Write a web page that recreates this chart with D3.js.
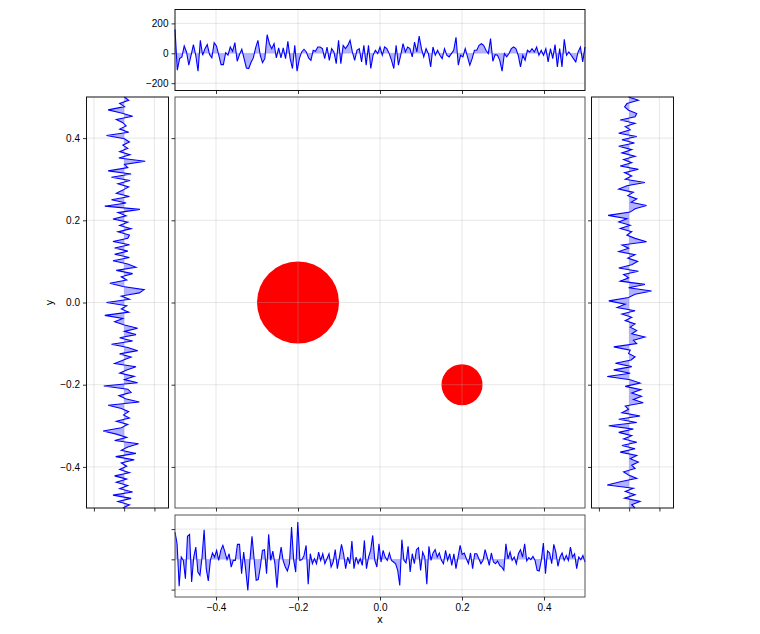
<!DOCTYPE html>
<html lang="en">
<head>
    <meta charset="UTF-8">
    <title>Marginal signals</title>
    <script src="https://cdn.jsdelivr.net/npm/d3@7"></script>
    <style>
        body { margin: 0; background: #fff; }
        svg { display: block; font-family: "DejaVu Sans", sans-serif; }
    </style>
</head>
<body>
<svg width="760" height="634"></svg>
<script>
    // circles in main panel (center x, center y, radius in data units)
    var circleX = [-0.2, 0.2];
    var circleY = [0, -0.2];
    var circleR = [0.1, 0.05];

    var mainTicks = [-0.4, -0.2, 0.0, 0.2, 0.4];
    var sideTicks = [-200, 0, 200];

    // signal along top edge (left -> right)
    var topValues = [160, -113, -36, -24, 49, 9, -80, -13, 58, -13, -120, 87, -13, 31, 58, -9, -31, 71, 49, -13,
        -76, -76, 4, -13, 42, 13, 71, -53, -9, 27, -36, -98, -102, -62, -31, 36, 87, -13, -62, -36,
        124, 64, 31, 64, -31, 36, -31, 36, -36, 80, -36, -102, 53, -120, -36, 9, 27, 9, -31, -47,
        20, 13, 42, 42, 31, -36, 42, -47, 31, 9, -69, 87, -69, 53, 31, 53, 87, 9, -47, 20,
        31, -58, 53, -80, 53, -102, -13, 20, -2, 42, -13, 42, 31, -2, -47, -102, 53, -80, -13, 64,
        9, 42, 31, -24, 75, 9, 115, 31, -24, 31, -2, -91, 42, -13, 20, -13, -36, 31, -13, -24,
        -2, 20, 107, -80, -13, -24, 31, -24, -80, -36, 20, 20, 53, 64, 53, 20, -2, 98, -53, -9,
        -13, -47, -120, -2, -24, -2, 31, 42, 31, -13, -91, -13, -47, 20, 9, 31, 9, 42, -13, 20,
        -13, 31, -58, 31, -36, 58, -91, 31, -91, 93, -13, 9, -13, -36, -58, 9, 42, -58, 42];

    // signal along bottom edge (left -> right)
    var bottomValues = [180, 103, -178, 15, -7, -128, 152, 165, -150, 15, 81, -84, -106, 15, 196, -62, -143, -7, 42, 15,
        59, -7, 59, 92, 48, -2, 37, -51, -7, -7, 99, 99, -95, 48, -73, -205, -7, 152, 4, -139,
        -134, -51, 59, 64, -95, 165, -7, 55, -29, -187, -7, 81, -11, -51, -77, -29, 213, -2, -84, 246,
        -7, -2, 26, 92, -165, 37, -29, 4, -29, 48, -7, 37, -29, 4, 37, -51, -18, 64, -62, 15,
        99, 37, -62, 15, -29, 121, -62, 15, -29, 4, -40, 125, -62, 15, 59, 158, -7, -51, 103, -18,
        59, 15, -7, 42, -7, -18, -29, -73, -172, 130, -7, -24, 86, -84, 37, -29, 64, 77, -73, 48,
        15, -165, 86, -7, 42, 64, 15, 42, -7, -29, 59, -7, 37, -40, 37, -62, 15, 92, 33, 42,
        4, -29, 42, -62, 37, 37, 4, -29, -7, 64, 15, -40, 42, -18, -29, -11, -40, -51, -73, 103,
        4, 48, -7, 15, -29, 37, 64, 15, 103, -11, 11, -2, 20, -7, -73, -77, -7, 108, -95, 55,
        42, -29, 99, 48, -46, 15, 42, -7, 26, -7, 81, 15, 37, -62, 15, -2, 26, -18];

    // signal along left edge (top -> bottom)
    var leftValues = [2, 30, -30, 2, -106, -19, 56, -52, -9, 13, -30, 30, -117, 2, 35, -9, 24, -30, 39, -35,
        139, 2, 24, -106, 46, -84, 39, -41, 30, -9, -52, 35, -84, 13, -128, 104, -41, 13, -74, 24,
        -30, 46, -41, 35, 24, -74, 35, -63, 24, -63, 35, -74, 24, 78, -52, 56, -19, 17, -95, -9,
        132, 100, -19, 35, -117, 17, -19, 30, -128, -9, -63, 2, 89, 2, 78, -30, 56, -84, 24, 89,
        -30, 46, -9, -63, 78, 17, -30, 67, 2, 89, -135, 24, 46, -35, 9, 100, -106, -19, 30, -4,
        35, -52, 24, -19, -139, -52, 17, -63, 95, 24, -19, 78, -56, 67, -19, 17, -30, 35, -63, 17,
        -52, 24, -30, 56, -74, 46, -41, 35, -9];

    // signal along right edge (top -> bottom)
    var rightValues = [-4, 61, -15, -30, -4, 50, 39, -59, 39, -26, 7, -69, 50, -48, 35, -69, 17, -48, 39, -37,
        17, -59, 61, -30, 17, -26, 104, -15, -69, 28, -9, 50, 13, 115, 39, 7, -139, -15, -69, 7,
        -59, 17, -15, 39, 115, -48, -4, -69, 39, -9, 56, 17, -69, 61, -37, -4, -59, 104, -4, 148,
        39, -4, -135, -26, -80, 39, -48, 17, -26, 39, 7, 50, 17, 104, 28, 50, -102, 7, -4, 39,
        13, -91, 17, -102, 7, -145, 7, 72, -26, 78, 17, 82, 28, 93, -26, -4, -48, 72, -69, 50,
        -135, 28, -69, 17, -37, 50, -48, 39, -59, 50, 7, 61, 17, 39, -37, -4, 50, -59, -145, 28,
        -26, 39, -30, 72, 17, 39];

    var svg = d3.select('svg');

    // panel boxes
    var mainBox = { x: 175, y: 97, w: 410, h: 411 };
    var topBox = { x: 175, y: 9.5, w: 410, h: 81 };
    var bottomBox = { x: 175, y: 515, w: 410, h: 82 };
    var leftBox = { x: 86.5, y: 97, w: 82, h: 411 };
    var rightBox = { x: 591.5, y: 97, w: 82, h: 411 };

    var sideDomain = [-249, 293];

    var xMain = d3.scaleLinear().domain([-0.5, 0.5]).range([mainBox.x, mainBox.x + mainBox.w]);
    var yMain = d3.scaleLinear().domain([-0.5, 0.5]).range([mainBox.y + mainBox.h, mainBox.y]);
    var yTop = d3.scaleLinear().domain(sideDomain).range([topBox.y + topBox.h, topBox.y]);
    var yBottom = d3.scaleLinear().domain(sideDomain).range([bottomBox.y + bottomBox.h, bottomBox.y]);
    var xLeft = d3.scaleLinear().domain(sideDomain).range([leftBox.x, leftBox.x + leftBox.w]);
    var xRight = d3.scaleLinear().domain(sideDomain).range([rightBox.x, rightBox.x + rightBox.w]);

    var gridColor = '#b0b0b0';

    function grid(g, xs, ys, xTicks, yTicks, box) {
        var gg = g.append('g').attr('stroke', gridColor).attr('stroke-opacity', 0.3).attr('stroke-width', 1);
        gg.selectAll('.gx').data(xTicks).enter().append('line')
            .attr('x1', function (d) { return xs(d); }).attr('x2', function (d) { return xs(d); })
            .attr('y1', box.y).attr('y2', box.y + box.h);
        gg.selectAll('.gy').data(yTicks).enter().append('line')
            .attr('y1', function (d) { return ys(d); }).attr('y2', function (d) { return ys(d); })
            .attr('x1', box.x).attr('x2', box.x + box.w);
    }

    function frame(box, color) {
        svg.append('rect').attr('x', box.x).attr('y', box.y).attr('width', box.w).attr('height', box.h)
            .attr('fill', 'none').attr('stroke', color).attr('stroke-width', 1);
    }

    function axes(box, xs, ys, xTicks, yTicks, xLabels, yLabels) {
        var bx = svg.append('g').attr('transform', 'translate(0,' + (box.y + box.h) + ')')
            .call(d3.axisBottom(xs).tickValues(xTicks).tickSizeOuter(0).tickSize(3.5)
                .tickFormat(xLabels ? d3.format('.1f') : ''));
        var ly = svg.append('g').attr('transform', 'translate(' + box.x + ',0)')
            .call(d3.axisLeft(ys).tickValues(yTicks).tickSizeOuter(0).tickSize(3.5)
                .tickFormat(yLabels ? yLabels : ''));
        [bx, ly].forEach(function (a) {
            a.select('.domain').remove();
            a.selectAll('text').attr('font-size', 10).attr('fill', '#000')
                .text(function () { return d3.select(this).text().replace('-', '\u2212'); });
            a.selectAll('.tick line').attr('stroke', '#000').attr('stroke-width', 0.8);
        });
        bx.selectAll('text').attr('dy', '0.71em');
    }

    // ---- main panel
    var main = svg.append('g');
    main.selectAll('circle').data(circleX).enter().append('circle')
        .attr('cx', function (d) { return xMain(d); })
        .attr('cy', function (d, i) { return yMain(circleY[i]); })
        .attr('r', function (d, i) { return xMain(circleR[i]) - xMain(0); })
        .attr('fill', '#ff0000');
    grid(main, xMain, yMain, mainTicks, mainTicks, mainBox);
    frame(mainBox, '#555');
    axes(mainBox, xMain, yMain, mainTicks, mainTicks, false, null);

    // ---- horizontal signal panels
    function hPanel(values, box, ys, frameColor, xLabels, yLabels) {
        var g = svg.append('g');
        var n = values.length;
        var xi = function (i) { return xMain(-0.5 + i / (n - 1)); };
        grid(g, xMain, ys, mainTicks, sideTicks, box);
        g.append('path').datum(values)
            .attr('d', d3.area().x(function (d, i) { return xi(i); }).y0(ys(0)).y1(function (d) { return ys(d); }))
            .attr('fill', '#0000ff').attr('fill-opacity', 0.3);
        g.append('path').datum(values)
            .attr('d', d3.line().x(function (d, i) { return xi(i); }).y(function (d) { return ys(d); }))
            .attr('fill', 'none').attr('stroke', '#0000ff').attr('stroke-width', 1.1);
        frame(box, frameColor);
        axes(box, xMain, ys, mainTicks, sideTicks, xLabels, yLabels);
    }

    // ---- vertical signal panels
    function vPanel(values, box, xs, yLabels) {
        var g = svg.append('g');
        var n = values.length;
        var yi = function (i) { return yMain(0.5 - i / (n - 1)); };
        grid(g, xs, yMain, sideTicks, mainTicks, box);
        g.append('path').datum(values)
            .attr('d', d3.area().y(function (d, i) { return yi(i); }).x0(xs(0)).x1(function (d) { return xs(d); }))
            .attr('fill', '#0000ff').attr('fill-opacity', 0.3);
        g.append('path').datum(values)
            .attr('d', d3.line().y(function (d, i) { return yi(i); }).x(function (d) { return xs(d); }))
            .attr('fill', 'none').attr('stroke', '#0000ff').attr('stroke-width', 1.1);
        frame(box, '#111');
        axes(box, xs, yMain, sideTicks, mainTicks, false, yLabels);
    }

    hPanel(topValues, topBox, yTop, '#111', false, d3.format('d'));
    hPanel(bottomValues, bottomBox, yBottom, '#555', true, null);
    vPanel(leftValues, leftBox, xLeft, d3.format('.1f'));
    vPanel(rightValues, rightBox, xRight, null);

    // axis labels
    svg.append('text').attr('x', xMain(0)).attr('y', 623).attr('text-anchor', 'middle')
        .attr('font-size', 10).text('x');
    svg.append('text').attr('transform', 'translate(53,' + yMain(0) + ') rotate(-90)')
        .attr('text-anchor', 'middle').attr('font-size', 10).text('y');
</script>
</body>
</html>
